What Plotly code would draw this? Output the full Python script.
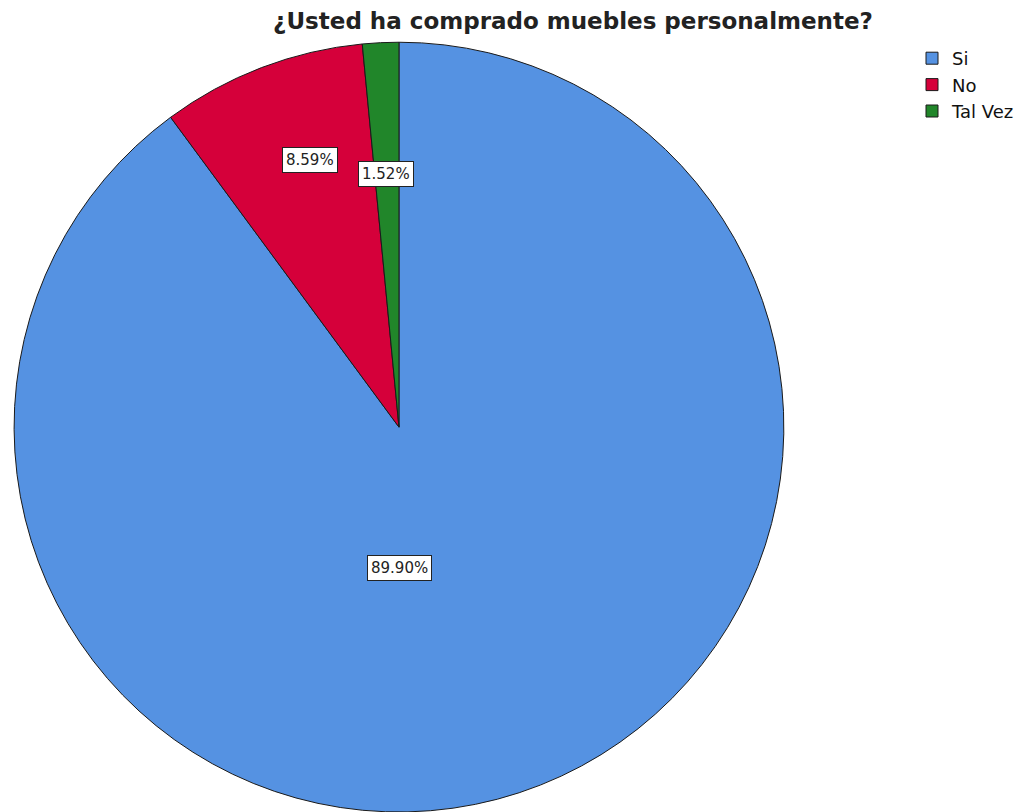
import plotly.graph_objects as go

# Survey answers and their shares (%)
categories = ["Si", "No", "Tal Vez"]
percentages = [89.90, 8.59, 1.52]
slice_colors = ["#5592E2", "#D5003A", "#21862A"]

title_text = "¿Usted ha comprado muebles personalmente?"

W, H = 1036, 812

fig = go.Figure(
    go.Pie(
        labels=categories,
        values=percentages,
        sort=False,
        direction="clockwise",
        rotation=0,
        marker=dict(colors=slice_colors, line=dict(color="#1a1a1a", width=1)),
        textinfo="none",
        hoverinfo="label+percent",
        domain=dict(x=[0.0135, 0.7567], y=[0.0, 0.948]),
    )
)

# Boxed percentage labels, placed inside each slice
label_positions = [(399, 568), (310, 160), (386, 174)]
for val, (px, py) in zip(percentages, label_positions):
    fig.add_annotation(
        x=px / W, y=1 - py / H, xref="paper", yref="paper",
        xanchor="center", yanchor="middle",
        text=f"{val:.2f}%", showarrow=False,
        font=dict(family="DejaVu Sans", size=15, color="#222222"),
        bgcolor="white", bordercolor="#222222", borderwidth=1, borderpad=3,
    )

fig.update_layout(
    width=W, height=H,
    margin=dict(l=0, r=0, t=0, b=0),
    paper_bgcolor="white",
    plot_bgcolor="white",
    title=dict(
        text=f"<b>{title_text}</b>",
        x=573 / W, xanchor="center",
        y=1 - 21 / H, yanchor="middle",
        font=dict(family="DejaVu Sans", size=23, color="#222222"),
    ),
    legend=dict(
        x=912 / W, y=1 - 40 / H, xanchor="left", yanchor="top",
        font=dict(family="DejaVu Sans", size=18, color="#111111"),
        itemwidth=30, tracegroupgap=0,
        bgcolor="rgba(0,0,0,0)",
    ),
    showlegend=True,
)

fig.write_html("out.html")
